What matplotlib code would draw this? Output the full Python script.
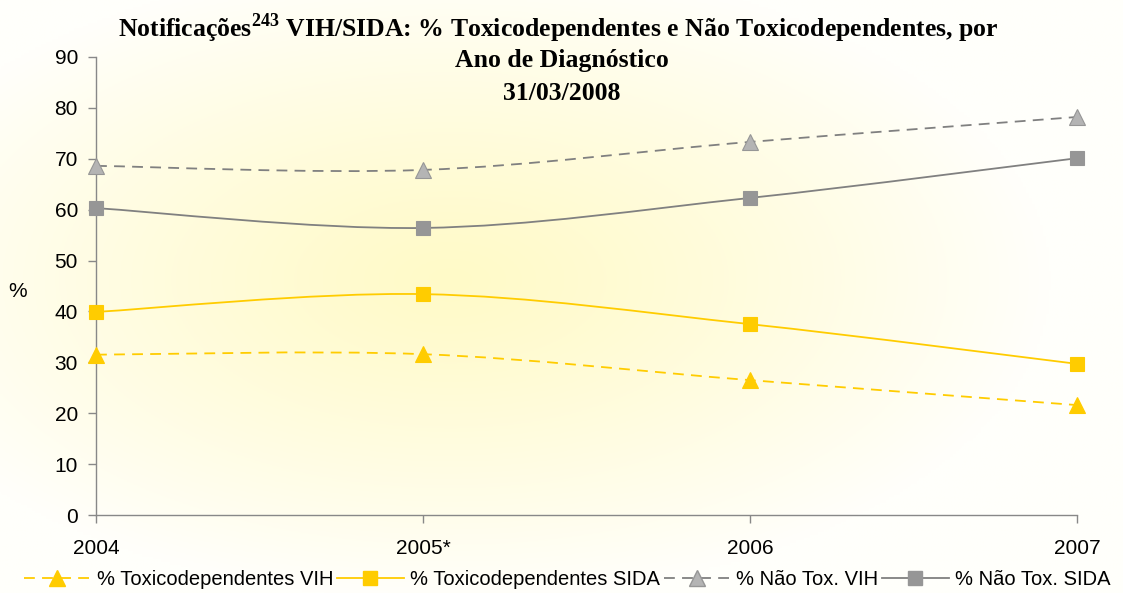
import numpy as np
import matplotlib
matplotlib.use("Agg")
import matplotlib.pyplot as plt
from matplotlib.path import Path
from matplotlib.patches import PathPatch
from matplotlib.lines import Line2D

plt.rcParams['font.family'] = ['Liberation Sans', 'DejaVu Sans']
plt.rcParams['mathtext.fontset'] = 'custom'
plt.rcParams['mathtext.rm'] = 'Liberation Serif'
plt.rcParams['mathtext.bf'] = 'Liberation Serif:bold'

years = [2004, 2005, 2006, 2007]
year_labels = ["2004", "2005*", "2006", "2007"]

tox_vih = [31.5, 31.6, 26.5, 21.6]
tox_sida = [39.9, 43.4, 37.5, 29.7]
nao_tox_vih = [68.6, 67.8, 73.3, 78.2]
nao_tox_sida = [60.3, 56.4, 62.3, 70.1]

YELLOW = "#FFCC00"
GREY = "#808080"


def smooth_path(xs, ys):
    # excel style smoothed line: catmull-rom as cubic bezier
    pts = np.column_stack([xs, ys]).astype(float)
    n = len(pts)
    verts = [pts[0]]
    codes = [Path.MOVETO]
    for i in range(n - 1):
        p0 = pts[i - 1] if i > 0 else pts[i]
        p1 = pts[i]
        p2 = pts[i + 1]
        p3 = pts[i + 2] if i + 2 < n else pts[i + 1]
        c1 = p1 + (p2 - p0) / 6.0
        c2 = p2 - (p3 - p1) / 6.0
        verts += [c1, c2, p2]
        codes += [Path.CURVE4] * 3
    return Path(verts, codes)


fig = plt.figure(figsize=(11.23, 5.93), dpi=100)

# background radial gradient
bg = fig.add_axes([0, 0, 1, 1], zorder=-10)
bg.axis("off")
gx, gy = np.meshgrid(np.linspace(0, 1123, 400), np.linspace(0, 593, 220))
r = np.sqrt(((gx - 450) / 600.0) ** 2 + ((gy - 280) / 320.0) ** 2)
t = np.clip(r, 0, 1) ** 1.2
c_in = np.array([255, 250, 200]) / 255.0
c_out = np.array([255, 255, 251]) / 255.0
img = c_in[None, None, :] * (1 - t[..., None]) + c_out[None, None, :] * t[..., None]
bg.imshow(img, extent=[0, 1123, 593, 0], aspect="auto")
bg.set_xlim(0, 1123)
bg.set_ylim(593, 0)

ax = fig.add_axes([0.0855, 0.1315, 0.8735, 0.7725])
ax.patch.set_alpha(0)

series = [
    (tox_vih, YELLOW, (0, (6, 4)), "^", YELLOW, YELLOW, "% Toxicodependentes VIH"),
    (tox_sida, YELLOW, "-", "s", YELLOW, YELLOW, "% Toxicodependentes SIDA"),
    (nao_tox_vih, GREY, (0, (6, 4)), "^", "#B4B4B4", "#969696", "% Não Tox. VIH"),
    (nao_tox_sida, GREY, "-", "s", "#969696", "#969696", "% Não Tox. SIDA"),
]

handles = []
for vals, col, ls, mk, mfc, mec, lab in series:
    patch = PathPatch(smooth_path(years, vals), facecolor="none", edgecolor=col,
                      linestyle=ls, linewidth=1.3, zorder=3)
    ax.add_patch(patch)
    ax.plot(years, vals, linestyle="none", marker=mk, markersize=11 if mk == "^" else 10,
            markerfacecolor=mfc, markeredgecolor=mec, markeredgewidth=0.8, zorder=4,
            clip_on=False)
    handles.append(Line2D([0], [0], color=col, linestyle=ls, linewidth=1.3, marker=mk,
                          markersize=11 if mk == "^" else 10, markerfacecolor=mfc,
                          markeredgecolor=mec, label=lab))

ax.set_xlim(2004, 2007)
ax.set_ylim(0, 90)
ax.set_yticks(range(0, 91, 10))
ax.set_xticks(years)
ax.set_xticklabels(year_labels)
ax.tick_params(axis="both", colors="#888888", labelcolor="black", labelsize=15,
               length=6, width=1)
ax.tick_params(axis="x", pad=11)
ax.tick_params(axis="y", pad=7)
for side in ["top", "right"]:
    ax.spines[side].set_visible(False)
for side in ["left", "bottom"]:
    ax.spines[side].set_color("#888888")
    ax.spines[side].set_linewidth(1)

fig.text(18 / 1123, 1 - 291 / 593, "%", ha="center", va="center", fontsize=15)

title_kw = dict(ha="center", va="center", fontsize=18.5, fontweight="bold",
                family="Liberation Serif")
fig.text(0.497, 1 - 28 / 593,
         r"Notificações$^{\mathbf{243}}$ VIH/SIDA: % Toxicodependentes e Não Toxicodependentes, por",
         **title_kw)
fig.text(0.5, 1 - 61 / 593, "Ano de Diagnóstico", **title_kw)
fig.text(0.5, 1 - 93 / 593, "31/03/2008", **title_kw)

fig.legend(handles=handles, loc="center", bbox_to_anchor=(0.505, 0.022), ncol=4,
           frameon=False, fontsize=14.5, handlelength=3.3, handletextpad=0.3,
           columnspacing=0.2)

fig.savefig("out.png", dpi=100)
